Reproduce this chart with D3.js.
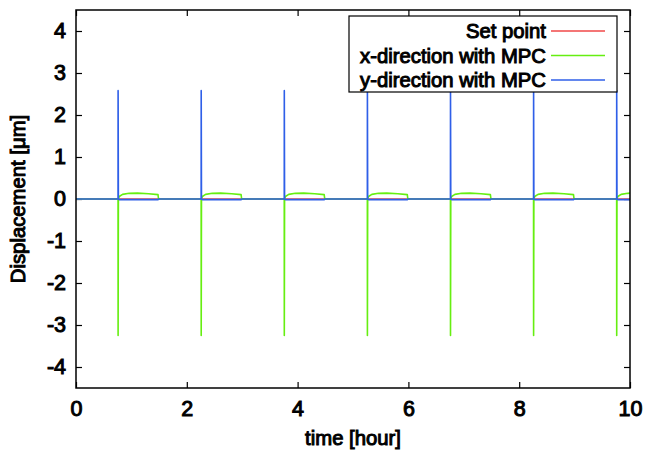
<!DOCTYPE html>
<html><head><meta charset="utf-8">
<script src="https://cdn.jsdelivr.net/npm/d3@7"></script>
<style>html,body{margin:0;padding:0;background:#fff;}svg{display:block;font-family:"Liberation Sans",Arial,Helvetica,sans-serif;}</style>
</head><body>
<script>
// time [hour]
const timeH = [0,
  0.759,0.76,0.765,0.78,0.84,0.96,1.11,1.31,1.48,1.49,
  2.259,2.26,2.265,2.28,2.34,2.46,2.61,2.81,2.98,2.99,
  3.759,3.76,3.765,3.78,3.84,3.96,4.11,4.31,4.48,4.49,
  5.259,5.26,5.265,5.28,5.34,5.46,5.61,5.81,5.98,5.99,
  6.759,6.76,6.765,6.78,6.84,6.96,7.11,7.31,7.48,7.49,
  8.259,8.26,8.265,8.28,8.34,8.46,8.61,8.81,8.98,8.99,
  9.759,9.76,9.765,9.78,9.84,9.96,10.0];
const setPoint = [0,
  0,0,0,0,0,0,0,0,0,0,
  0,0,0,0,0,0,0,0,0,0,
  0,0,0,0,0,0,0,0,0,0,
  0,0,0,0,0,0,0,0,0,0,
  0,0,0,0,0,0,0,0,0,0,
  0,0,0,0,0,0,0,0,0,0,
  0,0,0,0,0,0,0];
const xDirection = [0,
  0,-3.25,0,0.06,0.11,0.135,0.14,0.125,0.105,0,
  0,-3.25,0,0.06,0.11,0.135,0.14,0.125,0.105,0,
  0,-3.25,0,0.06,0.11,0.135,0.14,0.125,0.105,0,
  0,-3.25,0,0.06,0.11,0.135,0.14,0.125,0.105,0,
  0,-3.25,0,0.06,0.11,0.135,0.14,0.125,0.105,0,
  0,-3.25,0,0.06,0.11,0.135,0.14,0.125,0.105,0,
  0,-3.25,0,0.06,0.11,0.135,0.14];
const yDirection = [0,
  0,2.58,0,-0.015,-0.015,-0.015,-0.015,-0.015,-0.015,0,
  0,2.58,0,-0.015,-0.015,-0.015,-0.015,-0.015,-0.015,0,
  0,2.58,0,-0.015,-0.015,-0.015,-0.015,-0.015,-0.015,0,
  0,2.58,0,-0.015,-0.015,-0.015,-0.015,-0.015,-0.015,0,
  0,2.58,0,-0.015,-0.015,-0.015,-0.015,-0.015,-0.015,0,
  0,2.58,0,-0.015,-0.015,-0.015,-0.015,-0.015,-0.015,0,
  0,2.58,0,-0.015,-0.015,-0.015,-0.015];
const xTicks = [0,2,4,6,8,10];
const yTicks = [-4,-3,-2,-1,0,1,2,3,4];
const yTickLabels = ["-4","-3","-2","-1","0","1","2","3","4"];
const seriesNames = ["Set point","x-direction with MPC","y-direction with MPC"];
const seriesColors = ["#f04848","#66ee11","#2f5fe8"];

const W = 647, H = 452;
const L = 76, R = 630, T = 10, B = 388;
const svg = d3.select("body").append("svg").attr("width", W).attr("height", H);
const x = d3.scaleLinear().domain([0,10]).range([L,R]);
const y = d3.scaleLinear().domain([-4.5,4.5]).range([B,T]);

svg.append("defs").append("clipPath").attr("id","clip")
  .append("rect").attr("x",L).attr("y",T).attr("width",R-L).attr("height",B-T);

const tickFont = 21.5, textFont = 20.3;
function heavy(sel, size){
  sel.attr("font-size",size).attr("font-weight","normal").attr("fill","#000")
    .attr("stroke","#000").attr("stroke-width",1.0)
    .attr("font-family","'Liberation Sans',Arial,sans-serif");
}
// axes with inward ticks
const axB = d3.axisBottom(x).tickValues(xTicks).tickSize(-6).tickPadding(13).tickFormat(d => String(d));
const axT = d3.axisTop(x).tickValues(xTicks).tickSize(-6).tickFormat("");
const axL = d3.axisLeft(y).tickValues(yTicks).tickSize(-6).tickPadding(10).tickFormat((d,i) => yTickLabels[i]);
const axR = d3.axisRight(y).tickValues(yTicks).tickSize(-6).tickFormat("");
function style(g){
  g.select(".domain").remove();
  g.selectAll(".tick line").attr("stroke","#000").attr("stroke-width",1.2);
  g.selectAll(".tick text").call(heavy, tickFont);
}
svg.append("g").attr("transform",`translate(0,${B})`).call(axB).call(style);
svg.append("g").attr("transform",`translate(0,${T})`).call(axT).call(style);
svg.append("g").attr("transform",`translate(${L},0)`).call(axL).call(style);
svg.append("g").attr("transform",`translate(${R},0)`).call(axR).call(style);

const rows = timeH.map((t,i)=>({t, s:setPoint[i], xd:xDirection[i], yd:yDirection[i]}));
const plot = svg.append("g").attr("clip-path","url(#clip)");
const keys = ["s","xd","yd"];
keys.forEach((k,i)=>{
  plot.append("path").datum(rows)
    .attr("fill","none").attr("stroke",seriesColors[i]).attr("stroke-width",1.6)
    .attr("stroke-linejoin","round")
    .attr("d", d3.line().x(d=>x(d.t)).y(d=>y(d[k])));
});

// frame
svg.append("rect").attr("x",L).attr("y",T).attr("width",R-L).attr("height",B-T)
  .attr("fill","none").attr("stroke","#000").attr("stroke-width",1.5);

// legend
const lg = svg.append("g");
lg.append("rect").attr("x",349).attr("y",16).attr("width",268).attr("height",76)
  .attr("fill","#fff").attr("stroke","#000").attr("stroke-width",1.2);
seriesNames.forEach((n,i)=>{
  const cy = 31 + i*24.5;
  lg.append("text").attr("x",546).attr("y",cy).attr("dy","0.36em").attr("text-anchor","end")
    .call(heavy, textFont).text(n);
  lg.append("line").attr("x1",551).attr("x2",605).attr("y1",cy).attr("y2",cy)
    .attr("stroke",seriesColors[i]).attr("stroke-width",1.6);
});

// axis titles
svg.append("text").attr("x",(L+R)/2).attr("y",445).attr("text-anchor","middle")
  .call(heavy, textFont).text("time [hour]");
svg.append("text").attr("transform",`translate(25,${(T+B)/2}) rotate(-90)`).attr("text-anchor","middle")
  .call(heavy, textFont).text("Displacement [μm]");
</script>
</body></html>
